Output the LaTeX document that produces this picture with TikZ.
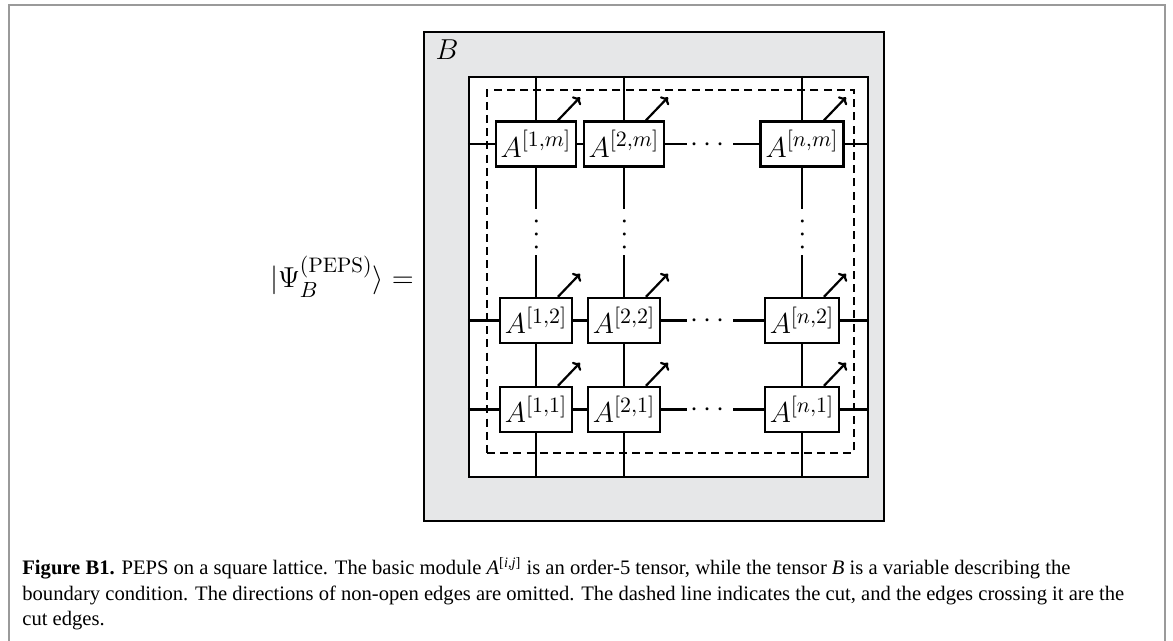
\documentclass[tikz,border=0pt]{standalone}
\usepackage{amsmath}
\usepackage{fontspec}
\usepackage{tikz}
\usetikzlibrary{arrows.meta,positioning,calc}
\newfontfamily\capfont{Liberation Serif}
\definecolor{bgray}{HTML}{E6E7E8}
\definecolor{framegray}{HTML}{9A9A9A}

\begin{document}
\begin{tikzpicture}[
    x=0.5pt, y=-0.5pt,
    font=\fontsize{15}{18}\selectfont,
    tensor/.style={draw, line width=1.2pt, fill=white, inner xsep=2.5pt, inner ysep=0pt, minimum height=22.5pt},
    bond/.style={line width=1.1pt},
    leg/.style={-{To[length=3pt,width=6pt]}, line width=1.1pt},
    dots/.style={inner sep=1.8pt, text height=7.5pt, text depth=0pt},
    cut/.style={draw, line width=1.1pt, dash pattern=on 4pt off 2.6pt, inner sep=0pt}
]
\useasboundingbox (0,0) rectangle (1173,641);
\draw[framegray, line width=1pt] (9,641) -- (9,5) -- (1165,5) -- (1165,641);

% boundary tensor and lattice
\node[draw, line width=1.2pt, fill=bgray, inner sep=0pt, minimum width=230pt, minimum height=244.5pt] (B) at (654,276.5) {};
\node[draw, line width=1.2pt, fill=white, inner sep=0pt, minimum width=199.5pt, minimum height=200pt] (inner) at (668.5,277) {};
\node (blabel) at (447,50) {$B$};
\node[left=1pt of B] (lhs) {$|\Psi_B^{(\mathrm{PEPS})}\rangle =$};

\node[cut, minimum width=183.5pt, minimum height=181.5pt] (cutline) at (670.5,271.5) {};

\node[tensor] (A1m) at (536,144) {$A^{[1,m]}$};
\node[tensor] (A2m) at (624,144) {$A^{[2,m]}$};
\node[tensor] (Anm) at (802,144) {$A^{[n,m]}$};
\node[tensor] (A12) at (536,320.5) {$A^{[1,2]}$};
\node[tensor] (A22) at (624,320.5) {$A^{[2,2]}$};
\node[tensor] (An2) at (802,320.5) {$A^{[n,2]}$};
\node[tensor] (A11) at (536,409.5) {$A^{[1,1]}$};
\node[tensor] (A21) at (624,409.5) {$A^{[2,1]}$};
\node[tensor] (An1) at (802,409.5) {$A^{[n,1]}$};

\node[dots] (hm) at (710,144) {$\cdots$};
\node[dots] (h2) at (710,320.5) {$\cdots$};
\node[dots] (h1) at (710,409.5) {$\cdots$};
\node[dots, rotate=90] (v1) at (536,232) {$\cdots$};
\node[dots, rotate=90] (v2) at (624,232) {$\cdots$};
\node[dots, rotate=90] (vn) at (802,232) {$\cdots$};

% bonds
\draw[bond] (A1m |- inner.north) -- (A1m);
\draw[bond] (A2m |- inner.north) -- (A2m);
\draw[bond] (Anm |- inner.north) -- (Anm);
\draw[bond] (A1m -| inner.west) -- (A1m) -- (A2m) -- (hm) -- (Anm) -- (Anm -| inner.east);
\draw[bond] (A12 -| inner.west) -- (A12) -- (A22) -- (h2) -- (An2) -- (An2 -| inner.east);
\draw[bond] (A11 -| inner.west) -- (A11) -- (A21) -- (h1) -- (An1) -- (An1 -| inner.east);
\draw[bond] (A1m) -- (v1) -- (A12) -- (A11) -- (A11 |- inner.south);
\draw[bond] (A2m) -- (v2) -- (A22) -- (A21) -- (A21 |- inner.south);
\draw[bond] (Anm) -- (vn) -- (An2) -- (An1) -- (An1 |- inner.south);

% open legs
\draw[leg] ([xshift=11pt]A1m.north) -- ++(11pt,11.5pt);
\draw[leg] ([xshift=11pt]A2m.north) -- ++(11pt,11.5pt);
\draw[leg] ([xshift=11pt]Anm.north) -- ++(11pt,11.5pt);
\draw[leg] ([xshift=11pt]A12.north) -- ++(11pt,11.5pt);
\draw[leg] ([xshift=11pt]A22.north) -- ++(11pt,11.5pt);
\draw[leg] ([xshift=11pt]An2.north) -- ++(11pt,11.5pt);
\draw[leg] ([xshift=11pt]A11.north) -- ++(11pt,11.5pt);
\draw[leg] ([xshift=11pt]A21.north) -- ++(11pt,11.5pt);
\draw[leg] ([xshift=11pt]An1.north) -- ++(11pt,11.5pt);

\node[anchor=north west, align=left, inner sep=0pt, font=\capfont\fontsize{10.3}{12.7}\selectfont] (caption) at (22,557) {\textbf{Figure B1.} PEPS on a square lattice. The basic module \textit{A}\textsuperscript{[\textit{i},\textit{j}]} is an order-5 tensor, while the tensor \textit{B} is a variable describing the\\
boundary condition. The directions of non-open edges are omitted. The dashed line indicates the cut, and the edges crossing it are the\\
cut edges.};
\end{tikzpicture}
\end{document}
